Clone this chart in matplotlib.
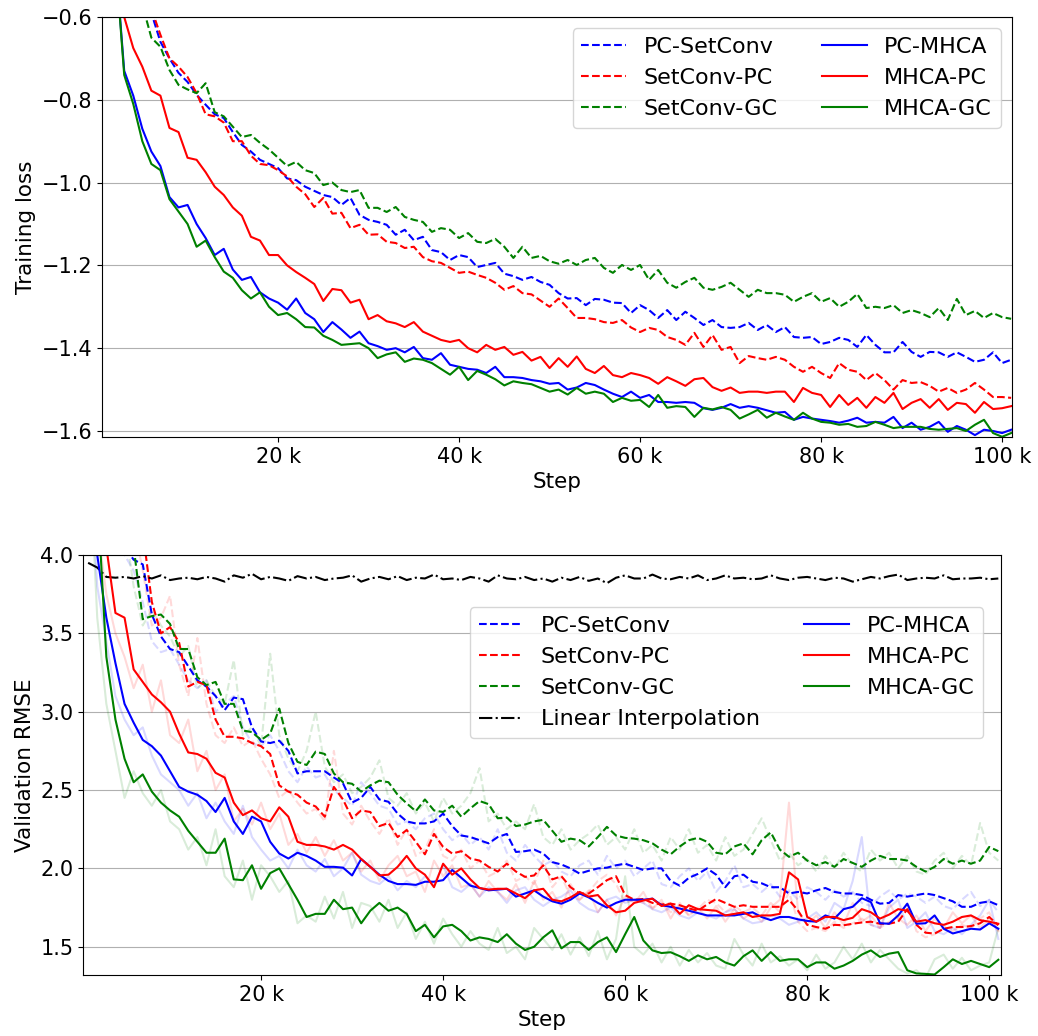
#!/usr/bin/env python3
"""Training loss and validation RMSE curves for the six PC / SetConv / MHCA / GC variants."""

import numpy as np
import matplotlib
matplotlib.use("Agg")
import matplotlib.pyplot as plt
import matplotlib.ticker as mticker

# logged every 1 k steps, 1 k .. 101 k
STEPS = np.arange(1, 102) * 1000

# ── Training loss (top panel) ───────────────────────────────────────
TOP_PC_SETCONV = [
    0.30, 0.10, -0.20, -0.38, -0.52, -0.59, -0.66, -0.70, -0.735, -0.757,
    -0.788, -0.812, -0.835, -0.844, -0.878, -0.909, -0.925, -0.945, -0.955, -0.965,
    -0.99, -0.994, -1.01, -1.02, -1.03, -1.035, -1.054, -1.037, -1.078, -1.09,
    -1.095, -1.102, -1.126, -1.114, -1.139, -1.131, -1.163, -1.168, -1.187, -1.175,
    -1.18, -1.204, -1.199, -1.194, -1.22, -1.226, -1.235, -1.228, -1.24, -1.247,
    -1.267, -1.28, -1.279, -1.296, -1.281, -1.283, -1.29, -1.291, -1.315, -1.296,
    -1.308, -1.327, -1.308, -1.332, -1.312, -1.327, -1.344, -1.332, -1.349, -1.351,
    -1.349, -1.339, -1.356, -1.344, -1.361, -1.349, -1.373, -1.375, -1.373, -1.39,
    -1.385, -1.375, -1.38, -1.397, -1.368, -1.392, -1.41, -1.41, -1.385, -1.409,
    -1.421, -1.409, -1.41, -1.421, -1.41, -1.421, -1.433, -1.428, -1.41, -1.436,
    -1.428,
]
TOP_SETCONV_PC = [
    0.30, 0.10, -0.20, -0.38, -0.50, -0.58, -0.643, -0.70, -0.72, -0.745,
    -0.784, -0.835, -0.84, -0.855, -0.90, -0.90, -0.935, -0.955, -0.958, -0.97,
    -0.985, -1.01, -1.028, -1.059, -1.037, -1.075, -1.073, -1.11, -1.102, -1.126,
    -1.125, -1.143, -1.146, -1.158, -1.155, -1.18, -1.19, -1.194, -1.206, -1.218,
    -1.215, -1.223, -1.23, -1.242, -1.259, -1.25, -1.267, -1.27, -1.285, -1.30,
    -1.28, -1.303, -1.327, -1.327, -1.33, -1.337, -1.339, -1.332, -1.35, -1.361,
    -1.351, -1.356, -1.373, -1.38, -1.392, -1.363, -1.397, -1.368, -1.404, -1.397,
    -1.436, -1.419, -1.424, -1.428, -1.421, -1.428, -1.445, -1.457, -1.445, -1.46,
    -1.472, -1.436, -1.452, -1.457, -1.477, -1.46, -1.477, -1.50, -1.477, -1.484,
    -1.482, -1.491, -1.505, -1.496, -1.508, -1.50, -1.484, -1.50, -1.518, -1.518,
    -1.52,
]
TOP_SETCONV_GC = [
    0.30, 0.0, -0.30, -0.45, -0.57, -0.65, -0.672, -0.728, -0.764, -0.775,
    -0.784, -0.76, -0.83, -0.84, -0.865, -0.89, -0.885, -0.904, -0.92, -0.94,
    -0.96, -0.95, -0.97, -0.977, -1.006, -1.0, -1.018, -1.023, -1.018, -1.061,
    -1.061, -1.071, -1.059, -1.083, -1.09, -1.095, -1.119, -1.11, -1.114, -1.134,
    -1.122, -1.143, -1.146, -1.136, -1.155, -1.182, -1.155, -1.182, -1.177, -1.19,
    -1.196, -1.187, -1.199, -1.187, -1.182, -1.206, -1.218, -1.199, -1.211, -1.199,
    -1.235, -1.211, -1.242, -1.254, -1.24, -1.23, -1.254, -1.259, -1.252, -1.242,
    -1.259, -1.276, -1.259, -1.267, -1.267, -1.271, -1.288, -1.276, -1.267, -1.288,
    -1.279, -1.30, -1.288, -1.269, -1.303, -1.30, -1.303, -1.296, -1.315, -1.308,
    -1.315, -1.325, -1.303, -1.332, -1.281, -1.32, -1.31, -1.327, -1.315, -1.325,
    -1.329,
]
TOP_PC_MHCA = [
    -0.10, -0.45, -0.73, -0.79, -0.87, -0.925, -0.96, -1.035, -1.06, -1.054,
    -1.10, -1.134, -1.175, -1.16, -1.21, -1.235, -1.228, -1.265, -1.28, -1.29,
    -1.307, -1.28, -1.315, -1.33, -1.361, -1.337, -1.355, -1.375, -1.36, -1.388,
    -1.395, -1.404, -1.40, -1.41, -1.397, -1.424, -1.428, -1.412, -1.44, -1.445,
    -1.45, -1.452, -1.46, -1.445, -1.47, -1.47, -1.472, -1.477, -1.48, -1.486,
    -1.484, -1.50, -1.495, -1.484, -1.489, -1.50, -1.51, -1.518, -1.505, -1.52,
    -1.513, -1.53, -1.53, -1.532, -1.53, -1.532, -1.545, -1.549, -1.544, -1.535,
    -1.544, -1.54, -1.544, -1.55, -1.556, -1.554, -1.573, -1.566, -1.57, -1.573,
    -1.576, -1.58, -1.575, -1.568, -1.58, -1.578, -1.58, -1.566, -1.593, -1.58,
    -1.597, -1.59, -1.578, -1.602, -1.588, -1.597, -1.61, -1.597, -1.60, -1.605,
    -1.597,
]
TOP_MHCA_PC = [
    0.0, -0.40, -0.60, -0.675, -0.72, -0.778, -0.79, -0.868, -0.878, -0.94,
    -0.945, -0.975, -1.01, -1.03, -1.06, -1.08, -1.131, -1.14, -1.175, -1.175,
    -1.20, -1.216, -1.23, -1.245, -1.286, -1.257, -1.26, -1.29, -1.283, -1.33,
    -1.32, -1.335, -1.34, -1.349, -1.337, -1.36, -1.37, -1.38, -1.385, -1.38,
    -1.40, -1.41, -1.392, -1.404, -1.397, -1.416, -1.409, -1.43, -1.421, -1.448,
    -1.424, -1.445, -1.42, -1.45, -1.46, -1.443, -1.465, -1.47, -1.46, -1.465,
    -1.472, -1.486, -1.47, -1.48, -1.491, -1.475, -1.472, -1.494, -1.503, -1.495,
    -1.508, -1.505, -1.505, -1.508, -1.505, -1.505, -1.53, -1.496, -1.508, -1.513,
    -1.542, -1.513, -1.537, -1.52, -1.544, -1.518, -1.532, -1.508, -1.547, -1.532,
    -1.523, -1.544, -1.523, -1.549, -1.532, -1.535, -1.556, -1.53, -1.547, -1.545,
    -1.54,
]
TOP_MHCA_GC = [
    -0.10, -0.45, -0.74, -0.81, -0.90, -0.955, -0.97, -1.04, -1.07, -1.10,
    -1.155, -1.14, -1.18, -1.215, -1.23, -1.26, -1.28, -1.265, -1.30, -1.32,
    -1.315, -1.33, -1.349, -1.35, -1.37, -1.38, -1.392, -1.39, -1.388, -1.40,
    -1.424, -1.415, -1.41, -1.433, -1.425, -1.428, -1.436, -1.45, -1.464, -1.445,
    -1.477, -1.455, -1.464, -1.475, -1.49, -1.48, -1.484, -1.487, -1.496, -1.505,
    -1.50, -1.512, -1.496, -1.51, -1.505, -1.51, -1.53, -1.52, -1.527, -1.525,
    -1.542, -1.513, -1.544, -1.54, -1.542, -1.566, -1.544, -1.548, -1.542, -1.549,
    -1.57, -1.56, -1.549, -1.568, -1.556, -1.565, -1.573, -1.556, -1.57, -1.578,
    -1.58, -1.585, -1.583, -1.59, -1.588, -1.578, -1.585, -1.593, -1.59, -1.59,
    -1.59, -1.595, -1.597, -1.595, -1.593, -1.60, -1.585, -1.573, -1.605, -1.614,
    -1.605,
]

# ── Validation RMSE (bottom panel), smoothed curves ─────────────────
BOT_PC_SETCONV = [
    5.5, 5.0, 4.6, 4.3, 4.05, 3.97, 3.94, 3.62, 3.48, 3.40,
    3.38, 3.29, 3.20, 3.16, 3.10, 3.01, 3.09, 3.08, 2.90, 2.81,
    2.80, 2.815, 2.75, 2.606, 2.62, 2.62, 2.62, 2.58, 2.543, 2.42,
    2.45, 2.52, 2.44, 2.425, 2.35, 2.30, 2.287, 2.287, 2.30, 2.35,
    2.27, 2.21, 2.20, 2.18, 2.16, 2.20, 2.22, 2.105, 2.11, 2.12,
    2.095, 2.04, 2.025, 2.00, 1.967, 1.985, 2.00, 2.005, 2.02, 2.03,
    2.01, 1.99, 2.00, 2.00, 1.92, 1.89, 1.94, 1.965, 2.00, 1.96,
    1.88, 1.95, 1.96, 1.915, 1.905, 1.88, 1.88, 1.84, 1.85, 1.84,
    1.86, 1.875, 1.85, 1.84, 1.84, 1.83, 1.80, 1.775, 1.78, 1.83,
    1.82, 1.83, 1.84, 1.83, 1.81, 1.79, 1.755, 1.755, 1.78, 1.79,
    1.765,
]
BOT_SETCONV_PC = [
    5.8, 5.4, 5.0, 4.7, 4.5, 4.3, 4.15, 3.70, 3.50, 3.54,
    3.44, 3.16, 3.19, 3.17, 2.95, 2.84, 2.84, 2.83, 2.80, 2.78,
    2.73, 2.53, 2.49, 2.47, 2.42, 2.395, 2.33, 2.52, 2.44, 2.32,
    2.37, 2.36, 2.27, 2.29, 2.20, 2.245, 2.17, 2.09, 2.22, 2.137,
    2.095, 2.11, 2.063, 2.05, 2.01, 1.98, 2.03, 1.98, 1.946, 1.955,
    2.02, 1.93, 1.95, 1.88, 1.84, 1.84, 1.88, 1.925, 1.95, 1.83,
    1.80, 1.805, 1.78, 1.77, 1.775, 1.765, 1.745, 1.73, 1.77, 1.805,
    1.78, 1.755, 1.765, 1.755, 1.755, 1.755, 1.755, 1.80, 1.73, 1.64,
    1.626, 1.615, 1.64, 1.637, 1.647, 1.655, 1.66, 1.647, 1.647, 1.66,
    1.74, 1.64, 1.59, 1.584, 1.615, 1.626, 1.626, 1.632, 1.65, 1.69,
    1.637,
]
BOT_SETCONV_GC = [
    6.0, 5.5, 5.0, 4.6, 4.3, 4.05, 3.59, 3.61, 3.62, 3.56,
    3.40, 3.40, 3.22, 3.17, 3.19, 3.05, 3.05, 2.88, 2.87, 2.82,
    2.86, 3.02, 2.80, 2.68, 2.66, 2.745, 2.73, 2.606, 2.55, 2.54,
    2.49, 2.53, 2.56, 2.55, 2.47, 2.415, 2.365, 2.44, 2.37, 2.36,
    2.40, 2.33, 2.383, 2.43, 2.41, 2.32, 2.325, 2.27, 2.28, 2.30,
    2.31, 2.24, 2.17, 2.19, 2.18, 2.14, 2.20, 2.265, 2.21, 2.195,
    2.19, 2.18, 2.16, 2.12, 2.09, 2.14, 2.18, 2.195, 2.17, 2.10,
    2.09, 2.14, 2.16, 2.09, 2.18, 2.23, 2.12, 2.074, 2.10, 2.05,
    2.02, 2.04, 2.01, 2.06, 2.035, 2.01, 2.05, 2.08, 2.06, 2.06,
    2.05, 2.01, 1.98, 2.01, 2.06, 2.03, 2.05, 2.03, 2.05, 2.137,
    2.11,
]
BOT_PC_MHCA = [
    5.0, 4.0, 3.60, 3.31, 3.05, 2.93, 2.82, 2.78, 2.72, 2.62,
    2.52, 2.49, 2.47, 2.43, 2.36, 2.45, 2.30, 2.22, 2.33, 2.30,
    2.17, 2.095, 2.063, 2.10, 2.08, 2.05, 2.01, 2.01, 2.005, 1.955,
    2.06, 2.01, 1.96, 1.92, 1.90, 1.90, 1.895, 1.915, 1.915, 1.925,
    1.99, 1.94, 1.89, 1.875, 1.86, 1.865, 1.87, 1.82, 1.84, 1.86,
    1.82, 1.79, 1.775, 1.80, 1.84, 1.815, 1.78, 1.75, 1.78, 1.80,
    1.80, 1.80, 1.807, 1.765, 1.755, 1.744, 1.73, 1.715, 1.70, 1.70,
    1.70, 1.70, 1.71, 1.72, 1.69, 1.67, 1.69, 1.69, 1.675, 1.665,
    1.66, 1.70, 1.68, 1.74, 1.755, 1.81, 1.785, 1.65, 1.647, 1.70,
    1.775, 1.647, 1.65, 1.70, 1.615, 1.585, 1.60, 1.615, 1.61, 1.65,
    1.615,
]
BOT_MHCA_PC = [
    5.2, 4.6, 4.05, 3.63, 3.60, 3.27, 3.19, 3.11, 3.06, 3.00,
    2.86, 2.74, 2.73, 2.70, 2.61, 2.58, 2.42, 2.34, 2.37, 2.32,
    2.30, 2.39, 2.33, 2.17, 2.15, 2.15, 2.14, 2.12, 2.15, 2.12,
    2.06, 2.01, 1.955, 1.96, 2.01, 2.08, 2.00, 1.96, 1.88, 2.03,
    1.96, 2.00, 1.93, 1.875, 1.865, 1.87, 1.87, 1.84, 1.81, 1.86,
    1.87, 1.80, 1.79, 1.815, 1.85, 1.82, 1.83, 1.765, 1.72, 1.73,
    1.78, 1.795, 1.807, 1.76, 1.775, 1.71, 1.765, 1.74, 1.735, 1.73,
    1.70, 1.71, 1.72, 1.69, 1.70, 1.70, 1.71, 1.975, 1.93, 1.69,
    1.66, 1.69, 1.69, 1.67, 1.685, 1.74, 1.72, 1.68, 1.705, 1.74,
    1.73, 1.66, 1.67, 1.65, 1.64, 1.66, 1.69, 1.70, 1.67, 1.66,
    1.647,
]
BOT_MHCA_GC = [
    5.0, 4.4, 3.35, 2.95, 2.70, 2.55, 2.60, 2.49, 2.42, 2.37,
    2.33, 2.24, 2.17, 2.10, 2.10, 2.19, 1.93, 1.925, 2.02, 1.87,
    1.97, 2.00, 1.90, 1.80, 1.69, 1.71, 1.71, 1.80, 1.74, 1.75,
    1.65, 1.73, 1.78, 1.73, 1.75, 1.71, 1.60, 1.64, 1.56, 1.63,
    1.64, 1.60, 1.54, 1.56, 1.55, 1.53, 1.58, 1.52, 1.48, 1.50,
    1.56, 1.605, 1.49, 1.53, 1.53, 1.48, 1.53, 1.56, 1.466, 1.58,
    1.69, 1.54, 1.477, 1.46, 1.465, 1.44, 1.41, 1.445, 1.42, 1.435,
    1.40, 1.38, 1.44, 1.477, 1.41, 1.466, 1.41, 1.42, 1.42, 1.37,
    1.40, 1.40, 1.36, 1.38, 1.41, 1.45, 1.477, 1.435, 1.456, 1.466,
    1.35, 1.33, 1.327, 1.323, 1.37, 1.42, 1.39, 1.41, 1.39, 1.37,
    1.417,
]
BOT_LINEAR = [
    3.95, 3.92, 3.86, 3.855, 3.86, 3.85, 3.865, 3.85, 3.87, 3.84,
    3.85, 3.855, 3.845, 3.86, 3.85, 3.83, 3.87, 3.855, 3.88, 3.845,
    3.86, 3.85, 3.835, 3.865, 3.85, 3.86, 3.84, 3.85, 3.855, 3.87,
    3.83, 3.85, 3.86, 3.845, 3.865, 3.84, 3.855, 3.85, 3.875, 3.845,
    3.85, 3.84, 3.86, 3.85, 3.83, 3.87, 3.85, 3.845, 3.86, 3.84,
    3.85, 3.83, 3.855, 3.84, 3.86, 3.835, 3.85, 3.82, 3.855, 3.87,
    3.85, 3.85, 3.875, 3.85, 3.845, 3.86, 3.85, 3.87, 3.84, 3.85,
    3.87, 3.85, 3.855, 3.845, 3.85, 3.87, 3.85, 3.84, 3.855, 3.86,
    3.85, 3.84, 3.855, 3.85, 3.83, 3.845, 3.86, 3.85, 3.865, 3.875,
    3.84, 3.85, 3.855, 3.85, 3.87, 3.845, 3.85, 3.85, 3.855, 3.845,
    3.85,
]

# ── Validation RMSE, raw (faint) curves ─────────────────────────────
RAW_PC_SETCONV = [
    5.5, 4.9, 4.5, 4.2, 4.0, 3.90, 3.70, 3.45, 3.38, 3.40,
    3.30, 3.20, 3.15, 3.20, 3.00, 3.05, 3.10, 2.90, 2.80, 2.78,
    2.85, 2.75, 2.62, 2.55, 2.65, 2.58, 2.60, 2.50, 2.45, 2.40,
    2.55, 2.48, 2.40, 2.38, 2.28, 2.30, 2.25, 2.32, 2.35, 2.25,
    2.18, 2.22, 2.15, 2.20, 2.12, 2.25, 2.10, 2.05, 2.15, 2.08,
    2.02, 2.05, 1.98, 1.95, 2.02, 2.05, 1.96, 2.08, 2.00, 2.05,
    1.95, 2.00, 2.05, 1.90, 1.88, 1.95, 2.00, 1.92, 1.98, 1.85,
    1.92, 2.02, 1.88, 1.90, 1.85, 1.90, 1.82, 1.86, 1.80, 1.88,
    1.85, 1.80, 1.86, 1.82, 1.85, 1.78, 1.76, 1.82, 1.86, 1.80,
    1.84, 1.82, 1.78, 1.82, 1.76, 1.74, 1.80, 1.85, 1.76, 1.80,
    1.72,
]
RAW_SETCONV_PC = [
    5.8, 5.3, 4.9, 4.6, 4.4, 4.2, 3.9, 3.55, 3.60, 3.74,
    3.30, 3.10, 3.47, 3.05, 2.85, 2.80, 2.90, 2.78, 2.82, 2.70,
    2.60, 2.45, 2.50, 2.42, 2.35, 2.38, 2.30, 2.75, 2.35, 2.28,
    2.40, 2.30, 2.22, 2.32, 2.15, 2.25, 2.08, 2.12, 2.25, 2.08,
    2.05, 2.12, 2.00, 2.05, 1.95, 1.98, 2.05, 1.92, 1.95, 1.90,
    2.05, 1.88, 1.95, 1.82, 1.80, 1.85, 1.92, 1.96, 1.90, 1.78,
    1.80, 1.78, 1.75, 1.78, 1.72, 1.76, 1.70, 1.74, 1.80, 1.78,
    1.72, 1.76, 1.72, 1.75, 1.70, 1.78, 1.72, 1.85, 1.66, 1.60,
    1.62, 1.60, 1.66, 1.62, 1.65, 1.68, 1.64, 1.62, 1.66, 1.68,
    1.78, 1.60, 1.56, 1.58, 1.62, 1.60, 1.64, 1.62, 1.68, 1.72,
    1.60,
]
RAW_SETCONV_GC = [
    6.0, 5.4, 4.9, 4.5, 4.2, 3.80, 3.55, 3.65, 3.55, 3.48,
    3.35, 3.42, 3.15, 3.20, 3.10, 3.05, 3.33, 2.85, 2.90, 2.78,
    3.37, 2.85, 2.70, 2.62, 2.75, 3.00, 2.65, 2.55, 2.60, 2.48,
    2.52, 2.58, 2.69, 2.45, 2.40, 2.48, 2.35, 2.42, 2.30, 2.45,
    2.35, 2.40, 2.48, 2.64, 2.30, 2.35, 2.25, 2.30, 2.25, 2.41,
    2.20, 2.15, 2.25, 2.12, 2.18, 2.22, 2.28, 2.15, 2.20, 2.12,
    2.25, 2.10, 2.15, 2.05, 2.20, 2.12, 2.25, 2.10, 2.15, 2.05,
    2.20, 2.08, 2.12, 2.22, 2.32, 2.18, 2.05, 2.10, 2.02, 2.06,
    1.98, 2.08, 2.00, 2.10, 2.02, 1.98, 2.12, 2.05, 2.10, 2.00,
    2.08, 1.98, 1.96, 2.05, 2.10, 2.00, 2.08, 2.02, 2.29, 2.10,
    2.05,
]
RAW_PC_MHCA = [
    4.8, 3.8, 3.45, 3.10, 2.95, 2.85, 2.90, 2.72, 2.60, 2.55,
    2.50, 2.40, 2.48, 2.32, 2.42, 2.30, 2.22, 2.40, 2.20, 2.12,
    2.05, 2.08, 2.00, 2.12, 2.02, 1.98, 2.06, 1.95, 2.00, 2.10,
    1.96, 1.92, 1.90, 1.95, 1.86, 1.92, 1.88, 1.95, 1.90, 2.02,
    1.88, 1.85, 1.90, 1.82, 1.88, 1.85, 1.78, 1.86, 1.88, 1.80,
    1.76, 1.80, 1.82, 1.86, 1.78, 1.74, 1.72, 1.80, 1.82, 1.78,
    1.80, 1.78, 1.74, 1.72, 1.75, 1.70, 1.68, 1.72, 1.70, 1.68,
    1.72, 1.74, 1.68, 1.65, 1.66, 1.70, 1.68, 1.64, 1.66, 1.68,
    1.72, 1.66, 1.78, 1.74, 1.92, 2.20, 1.64, 1.62, 1.75, 1.80,
    1.62, 1.66, 1.72, 1.60, 1.58, 1.62, 1.58, 1.64, 1.70, 1.80,
    1.55,
]
RAW_MHCA_PC = [
    5.0, 4.2, 3.75, 3.50, 3.35, 3.15, 3.30, 3.00, 3.20, 2.85,
    2.80, 2.95, 2.62, 2.75, 2.50, 2.60, 2.30, 2.38, 2.28, 2.42,
    2.25, 2.35, 2.15, 2.22, 2.10, 2.20, 2.08, 2.18, 2.05, 2.10,
    1.98, 2.05, 1.92, 2.02, 2.08, 1.95, 1.98, 1.85, 2.05, 1.95,
    2.02, 1.88, 1.90, 1.82, 1.92, 1.85, 1.80, 1.90, 1.78, 1.92,
    1.80, 1.85, 1.75, 1.90, 1.80, 1.86, 1.72, 1.80, 1.70, 1.82,
    1.78, 1.85, 1.74, 1.80, 1.68, 1.78, 1.70, 1.75, 1.68, 1.76,
    1.66, 1.74, 1.68, 1.72, 1.66, 1.75, 1.80, 2.42, 1.72, 1.64,
    1.70, 1.62, 1.72, 1.64, 1.78, 1.66, 1.70, 1.62, 1.78, 1.68,
    1.64, 1.70, 1.60, 1.68, 1.62, 1.72, 1.65, 1.70, 1.62, 1.68,
    1.60,
]
RAW_MHCA_GC = [
    4.8, 3.6, 3.05, 2.75, 2.45, 2.62, 2.48, 2.40, 2.50, 2.30,
    2.25, 2.12, 2.20, 2.02, 2.25, 1.95, 1.88, 2.05, 1.80, 2.02,
    1.95, 1.85, 1.92, 1.65, 1.70, 1.66, 1.82, 1.68, 1.85, 1.62,
    1.78, 1.76, 1.66, 1.80, 1.62, 1.72, 1.55, 1.66, 1.52, 1.68,
    1.58, 1.50, 1.60, 1.52, 1.48, 1.62, 1.46, 1.50, 1.42, 1.62,
    1.55, 1.48, 1.58, 1.45, 1.56, 1.44, 1.60, 1.42, 1.55, 1.95,
    1.50, 1.45, 1.52, 1.40, 1.50, 1.38, 1.48, 1.40, 1.46, 1.38,
    1.36, 1.55, 1.45, 1.38, 1.52, 1.40, 1.44, 1.38, 1.42, 1.35,
    1.45, 1.36, 1.40, 1.50, 1.42, 1.52, 1.40, 1.48, 1.42, 1.36,
    1.33, 1.35, 1.30, 1.42, 1.45, 1.36, 1.43, 1.35, 1.38, 1.40,
    1.62,
]

LEGEND_FS = 16
TICK_FS = 15
LABEL_FS = 15.5
RAW_ALPHA = 0.15


def fmt_k(x, _):
    return f"{x/1000:.0f} k"


def style_axis(ax, ylabel):
    ax.set_xlabel("Step", fontsize=LABEL_FS)
    ax.set_ylabel(ylabel, fontsize=LABEL_FS)
    ax.set_xticks([20000, 40000, 60000, 80000, 100000])
    ax.xaxis.set_major_formatter(mticker.FuncFormatter(fmt_k))
    ax.tick_params(labelsize=TICK_FS)
    ax.grid(True, axis="y", color="#b0b0b0", linewidth=0.8)
    ax.set_axisbelow(True)


fig = plt.figure(figsize=(10.38, 10.36), dpi=100)

# ── Top: training loss ──────────────────────────────────────────────
ax1 = fig.add_axes([0.0983, 0.5782, 0.8767, 0.4054])
ax1.plot(STEPS, TOP_PC_SETCONV, color="blue", ls="--", label="PC-SetConv")
ax1.plot(STEPS, TOP_SETCONV_PC, color="red", ls="--", label="SetConv-PC")
ax1.plot(STEPS, TOP_SETCONV_GC, color="green", ls="--", label="SetConv-GC")
ax1.plot(STEPS, TOP_PC_MHCA, color="blue", label="PC-MHCA")
ax1.plot(STEPS, TOP_MHCA_PC, color="red", label="MHCA-PC")
ax1.plot(STEPS, TOP_MHCA_GC, color="green", label="MHCA-GC")
ax1.set_xlim(550, 101100)
ax1.set_ylim(-1.6145, -0.6)
ax1.set_yticks([-1.6, -1.4, -1.2, -1.0, -0.8, -0.6])
style_axis(ax1, "Training loss")
ax1.legend(ncol=2, loc="upper right", fontsize=LEGEND_FS)

# ── Bottom: validation RMSE ─────────────────────────────────────────
ax2 = fig.add_axes([0.0800, 0.0589, 0.8844, 0.4054])
# raw curves, faint
ax2.plot(STEPS, RAW_PC_SETCONV, color="blue", ls="--", alpha=RAW_ALPHA)
ax2.plot(STEPS, RAW_SETCONV_PC, color="red", ls="--", alpha=RAW_ALPHA)
ax2.plot(STEPS, RAW_SETCONV_GC, color="green", ls="--", alpha=RAW_ALPHA)
ax2.plot(STEPS, RAW_PC_MHCA, color="blue", alpha=RAW_ALPHA)
ax2.plot(STEPS, RAW_MHCA_PC, color="red", alpha=RAW_ALPHA)
ax2.plot(STEPS, RAW_MHCA_GC, color="green", alpha=RAW_ALPHA)
# smoothed curves
ax2.plot(STEPS, BOT_PC_SETCONV, color="blue", ls="--", label="PC-SetConv")
ax2.plot(STEPS, BOT_SETCONV_PC, color="red", ls="--", label="SetConv-PC")
ax2.plot(STEPS, BOT_SETCONV_GC, color="green", ls="--", label="SetConv-GC")
ax2.plot(STEPS, BOT_LINEAR, color="black", ls="-.", label="Linear Interpolation")
ax2.plot(STEPS, BOT_PC_MHCA, color="blue", label="PC-MHCA")
ax2.plot(STEPS, BOT_MHCA_PC, color="red", label="MHCA-PC")
ax2.plot(STEPS, BOT_MHCA_GC, color="green", label="MHCA-GC")
ax2.set_xlim(440, 101300)
ax2.set_ylim(1.32, 4.0)
ax2.set_yticks([1.5, 2.0, 2.5, 3.0, 3.5, 4.0])
style_axis(ax2, "Validation RMSE")
ax2.legend(ncol=2, loc="upper right", bbox_to_anchor=(0.9804, 0.876),
           borderaxespad=0, fontsize=LEGEND_FS)

fig.savefig("out.png", dpi=100)
